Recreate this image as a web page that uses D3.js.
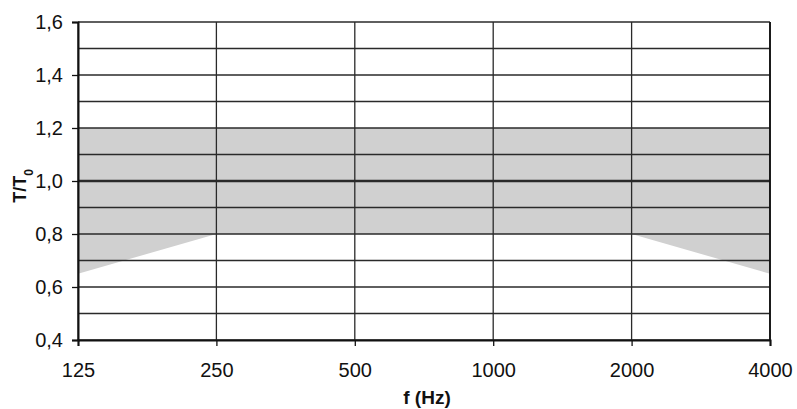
<!DOCTYPE html>
<html>
<head>
<meta charset="utf-8">
<script src="https://cdn.jsdelivr.net/npm/d3@7"></script>
<style>
  body { margin: 0; background: #fff; }
  text { font-family: "Liberation Sans", Arial, sans-serif; fill: #111; }
</style>
</head>
<body>
<div id="chart"></div>
<script>
// bandes d'octave et tolérance T/T0
const freqs = [125, 250, 500, 1000, 2000, 4000];
const upper = [1.2, 1.2, 1.2, 1.2, 1.2, 1.2];
const lower = [0.65, 0.8, 0.8, 0.8, 0.8, 0.65];
const yTicks = [0.4, 0.6, 0.8, 1.0, 1.2, 1.4, 1.6];
const yGrid = [0.4, 0.5, 0.6, 0.7, 0.8, 0.9, 1.0, 1.1, 1.2, 1.3, 1.4, 1.5, 1.6];

const margin = {top: 22, right: 27, bottom: 69, left: 78},
    width = 797 - margin.left - margin.right,
    height = 409 - margin.top - margin.bottom;

const x = d3.scaleLog().base(2)
    .domain([125, 4000])
    .range([0, width]);

const y = d3.scaleLinear()
    .domain([0.4, 1.6])
    .range([height, 0]);

const svg = d3.select("#chart").append("svg")
    .attr("width", 797)
    .attr("height", 409)
  .append("g")
    .attr("transform", "translate(" + margin.left + "," + margin.top + ")");

const band = freqs.map((f, i) => ({f: f, lo: lower[i], hi: upper[i]}));

// zone de tolérance
svg.append("path")
    .datum(band)
    .attr("fill", "#d0d0d0")
    .attr("d", d3.area()
        .x(d => x(d.f))
        .y0(d => y(d.lo))
        .y1(d => y(d.hi)));

// grille horizontale
svg.append("g")
    .selectAll("line")
    .data(yGrid)
    .join("line")
    .attr("x1", 0)
    .attr("x2", width)
    .attr("y1", d => y(d))
    .attr("y2", d => y(d))
    .attr("stroke", "#2a2a2a")
    .attr("stroke-width", d => Math.abs(d - 1.0) < 1e-9 ? 2.5 : 1.3);

// grille verticale
svg.append("g")
    .selectAll("line")
    .data(freqs)
    .join("line")
    .attr("x1", d => x(d))
    .attr("x2", d => x(d))
    .attr("y1", 0)
    .attr("y2", height)
    .attr("stroke", "#2a2a2a")
    .attr("stroke-width", 1.3);

// axe x
const gx = svg.append("g")
    .attr("transform", "translate(0," + height + ")")
    .call(d3.axisBottom(x).tickValues(freqs).tickFormat(d3.format("d")).tickSize(6).tickPadding(17));
gx.select(".domain").attr("stroke", "#111").attr("stroke-width", 2);
gx.selectAll(".tick line").attr("stroke", "#111").attr("stroke-width", 1.3);
gx.selectAll("text").style("font-size", "20px").attr("fill", "#111");

// axe y
const gy = svg.append("g")
    .call(d3.axisLeft(y).tickValues(yTicks)
        .tickFormat(d => d3.format(".1f")(d).replace(".", ","))
        .tickSize(6).tickPadding(9));
gy.select(".domain").attr("stroke", "#111").attr("stroke-width", 2);
gy.selectAll(".tick line").attr("stroke", "#111").attr("stroke-width", 1.3);
gy.selectAll("text").style("font-size", "20px").attr("fill", "#111");

// bord droit
svg.append("line")
    .attr("x1", width).attr("x2", width)
    .attr("y1", 0).attr("y2", height)
    .attr("stroke", "#111").attr("stroke-width", 1.8);

// titres des axes
svg.append("text")
    .attr("x", width / 2 + 3)
    .attr("y", height + 64)
    .attr("text-anchor", "middle")
    .style("font-size", "19px")
    .style("font-weight", "bold")
    .text("f (Hz)");

const yt = svg.append("text")
    .attr("transform", "translate(-52," + (height / 2 + 5) + ") rotate(-90)")
    .attr("text-anchor", "middle")
    .style("font-size", "18px")
    .style("font-weight", "bold");
yt.append("tspan").text("T/T");
yt.append("tspan").attr("baseline-shift", "sub").style("font-size", "12px").text("0");
</script>
</body>
</html>
